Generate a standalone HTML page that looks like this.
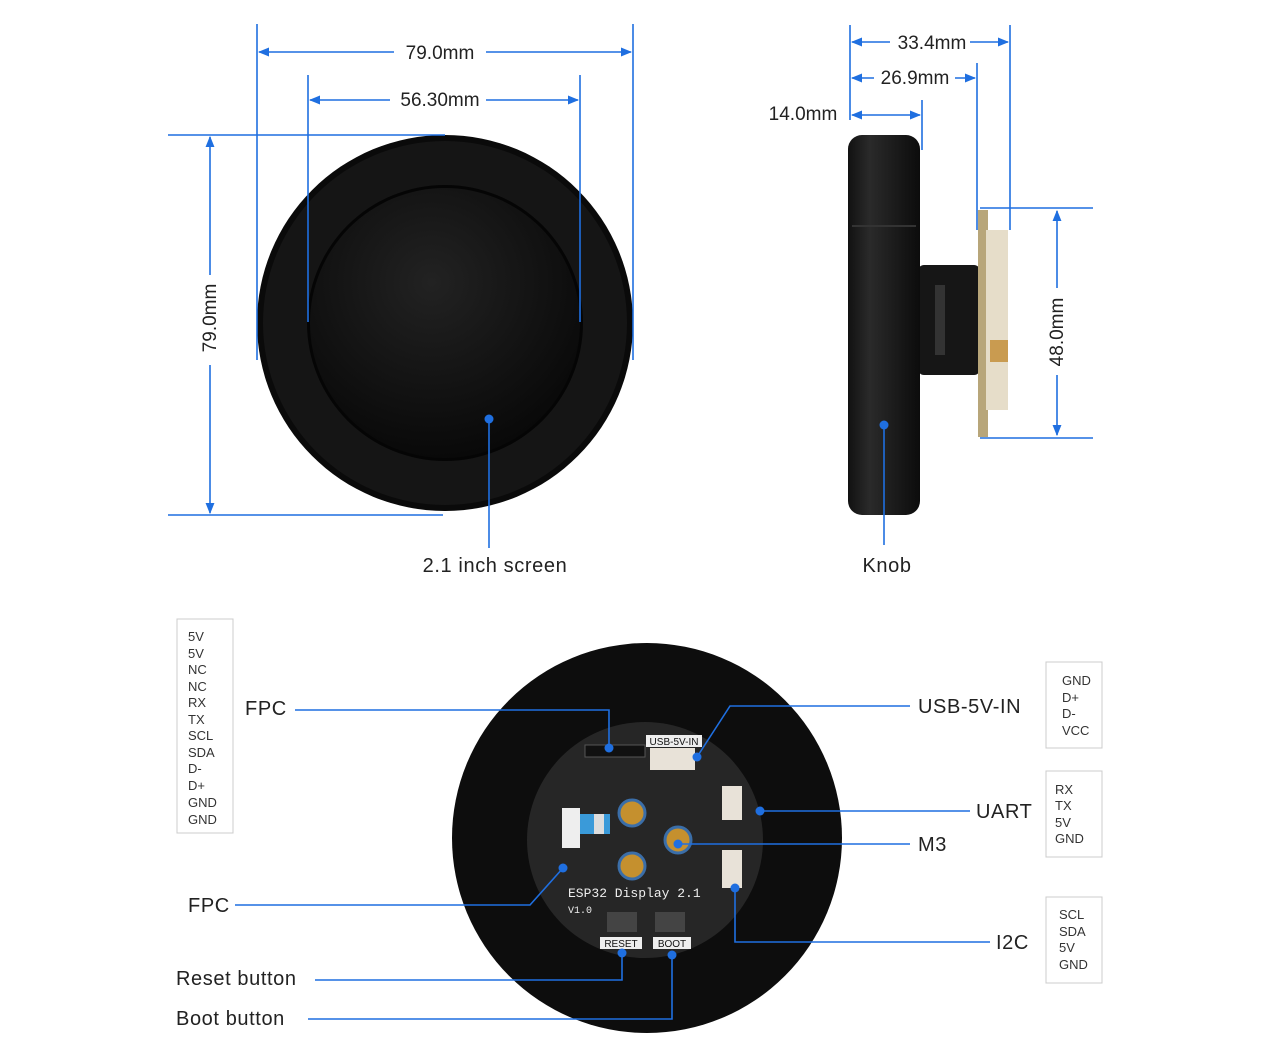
<!DOCTYPE html>
<html><head><meta charset="utf-8"><style>
html,body{margin:0;padding:0;background:#fff;width:1280px;height:1050px;overflow:hidden}
svg{display:block}
text{font-family:"Liberation Sans",sans-serif;fill:#222}
.b{stroke:#1f6fe0;stroke-width:1.6;fill:none}
.d{fill:#1f6fe0}
.pin{font-size:13px;fill:#333}
.lbl{font-size:20px;letter-spacing:0.6px}
.dim{font-size:19px}
</style></head><body>
<svg width="1280" height="1050" viewBox="0 0 1280 1050">
<defs>
<marker id="a" viewBox="0 0 10 10" refX="9" refY="5" markerWidth="7" markerHeight="7" orient="auto-start-reverse"><path d="M0,1L10,5L0,9z" fill="#1f6fe0"/></marker>
<radialGradient id="g1" cx="0.45" cy="0.35" r="0.7"><stop offset="0" stop-color="#222"/><stop offset="1" stop-color="#070707"/></radialGradient>
<linearGradient id="kn" x1="0" x2="1"><stop offset="0" stop-color="#111"/><stop offset="0.3" stop-color="#2a2a2a"/><stop offset="1" stop-color="#0c0c0c"/></linearGradient>
</defs>

<circle cx="445" cy="323" r="188" fill="#0a0a0a"/>
<circle cx="445" cy="323" r="182" fill="#151515"/>
<circle cx="445" cy="323" r="138" fill="#050505"/>
<circle cx="445" cy="323" r="135" fill="url(#g1)"/>
<line class="b" x1="257" y1="24" x2="257" y2="360"/>
<line class="b" x1="633" y1="24" x2="633" y2="360"/>
<line class="b" x1="308" y1="75" x2="308" y2="322"/>
<line class="b" x1="580" y1="75" x2="580" y2="322"/>
<line class="b" x1="168" y1="135" x2="445" y2="135"/>
<line class="b" x1="168" y1="515" x2="443" y2="515"/>
<line class="b" x1="259" y1="52" x2="394" y2="52" marker-start="url(#a)"/>
<line class="b" x1="486" y1="52" x2="631" y2="52" marker-end="url(#a)"/>
<text class="dim" x="440" y="59" text-anchor="middle">79.0mm</text>
<line class="b" x1="310" y1="100" x2="390" y2="100" marker-start="url(#a)"/>
<line class="b" x1="486" y1="100" x2="578" y2="100" marker-end="url(#a)"/>
<text class="dim" x="440" y="106" text-anchor="middle">56.30mm</text>
<line class="b" x1="210" y1="137" x2="210" y2="275" marker-start="url(#a)"/>
<line class="b" x1="210" y1="365" x2="210" y2="513" marker-end="url(#a)"/>
<text class="dim" transform="translate(216,318) rotate(-90)" text-anchor="middle">79.0mm</text>
<line class="b" x1="489" y1="419" x2="489" y2="548"/>
<circle class="d" cx="489" cy="419" r="4.5"/>
<text class="lbl" x="495" y="572" text-anchor="middle">2.1 inch screen</text>

<rect x="918" y="265" width="62" height="110" rx="6" fill="#161616"/>
<rect x="935" y="285" width="10" height="70" fill="#333"/>
<rect x="978" y="210" width="10" height="227" fill="#b8a67a"/>
<rect x="986" y="230" width="22" height="180" fill="#e6ddc9"/>
<rect x="990" y="340" width="18" height="22" fill="#c99b50"/>
<rect x="848" y="135" width="72" height="380" rx="14" fill="url(#kn)"/>
<rect x="852" y="225" width="64" height="2" fill="#333"/>
<line class="b" x1="850" y1="25" x2="850" y2="120"/>
<line class="b" x1="1010" y1="25" x2="1010" y2="230"/>
<line class="b" x1="977" y1="63" x2="977" y2="230"/>
<line class="b" x1="922" y1="100" x2="922" y2="150"/>
<line class="b" x1="852" y1="42" x2="890" y2="42" marker-start="url(#a)"/>
<line class="b" x1="970" y1="42" x2="1008" y2="42" marker-end="url(#a)"/>
<text class="dim" x="932" y="49" text-anchor="middle">33.4mm</text>
<line class="b" x1="852" y1="78" x2="874" y2="78" marker-start="url(#a)"/>
<line class="b" x1="955" y1="78" x2="975" y2="78" marker-end="url(#a)"/>
<text class="dim" x="915" y="84" text-anchor="middle">26.9mm</text>
<line class="b" x1="852" y1="115" x2="920" y2="115" marker-start="url(#a)" marker-end="url(#a)"/>
<text class="dim" x="803" y="120" text-anchor="middle">14.0mm</text>
<line class="b" x1="980" y1="208" x2="1093" y2="208"/>
<line class="b" x1="980" y1="438" x2="1093" y2="438"/>
<line class="b" x1="1057" y1="211" x2="1057" y2="288" marker-start="url(#a)"/>
<line class="b" x1="1057" y1="375" x2="1057" y2="435" marker-end="url(#a)"/>
<text class="dim" transform="translate(1063,332) rotate(-90)" text-anchor="middle">48.0mm</text>
<line class="b" x1="884" y1="425" x2="884" y2="545"/>
<circle class="d" cx="884" cy="425" r="4.5"/>
<text class="lbl" x="887" y="572" text-anchor="middle">Knob</text>

<circle cx="647" cy="838" r="195" fill="#0d0d0d"/>
<circle cx="645" cy="840" r="118" fill="#262626"/>
<rect x="585" y="745" width="60" height="12" fill="#111" stroke="#555"/>
<rect x="650" y="748" width="45" height="22" fill="#e8e2d8"/>
<rect x="722" y="786" width="20" height="34" fill="#e8e2d8"/>
<rect x="722" y="850" width="20" height="38" fill="#e8e2d8"/>
<rect x="562" y="808" width="18" height="40" fill="#eee"/>
<rect x="580" y="814" width="30" height="20" fill="#3a9ad9"/>
<rect x="594" y="814" width="10" height="20" fill="#ddd"/>
<circle cx="632" cy="813" r="13" fill="#c5902e" stroke="#3b6ea8" stroke-width="3"/>
<circle cx="678" cy="840" r="13" fill="#c5902e" stroke="#3b6ea8" stroke-width="3"/>
<circle cx="632" cy="866" r="13" fill="#c5902e" stroke="#3b6ea8" stroke-width="3"/>
<rect x="607" y="912" width="30" height="20" fill="#444"/>
<rect x="655" y="912" width="30" height="20" fill="#444"/>
<text x="568" y="897" style="font-family:'Liberation Mono',monospace;font-size:13px;fill:#eee">ESP32 Display 2.1</text>
<text x="568" y="913" style="font-family:'Liberation Mono',monospace;font-size:10px;fill:#eee">V1.0</text>
<rect x="600" y="937" width="42" height="12" fill="#eee"/><text x="621" y="947" text-anchor="middle" style="font-size:10px;fill:#111">RESET</text>
<rect x="653" y="937" width="38" height="12" fill="#eee"/><text x="672" y="947" text-anchor="middle" style="font-size:10px;fill:#111">BOOT</text>
<rect x="646" y="735" width="56" height="12" fill="#eee"/><text x="674" y="745" text-anchor="middle" style="font-size:10px;fill:#111">USB-5V-IN</text>

<path class="b" d="M295,710H609V748"/><circle class="d" cx="609" cy="748" r="4.5"/>
<path class="b" d="M910,706H730L697,757"/><circle class="d" cx="697" cy="757" r="4.5"/>
<path class="b" d="M970,811H760"/><circle class="d" cx="760" cy="811" r="4.5"/>
<path class="b" d="M910,844H678"/><circle class="d" cx="678" cy="844" r="4.5"/>
<path class="b" d="M235,905H530L563,868"/><circle class="d" cx="563" cy="868" r="4.5"/>
<path class="b" d="M990,942H735V888"/><circle class="d" cx="735" cy="888" r="4.5"/>
<path class="b" d="M315,980H622V953"/><circle class="d" cx="622" cy="953" r="4.5"/>
<path class="b" d="M308,1019H672V955"/><circle class="d" cx="672" cy="955" r="4.5"/>

<text class="lbl" x="245" y="715">FPC</text>
<text class="lbl" x="918" y="713">USB-5V-IN</text>
<text class="lbl" x="976" y="818">UART</text>
<text class="lbl" x="918" y="851">M3</text>
<text class="lbl" x="188" y="912">FPC</text>
<text class="lbl" x="996" y="949">I2C</text>
<text class="lbl" x="176" y="985">Reset button</text>
<text class="lbl" x="176" y="1025">Boot button</text>

<rect x="177" y="619" width="56" height="214" fill="none" stroke="#ccc"/>
<text class="pin" x="188" y="641">5V</text><text class="pin" x="188" y="658">5V</text>
<text class="pin" x="188" y="674">NC</text><text class="pin" x="188" y="691">NC</text>
<text class="pin" x="188" y="707">RX</text><text class="pin" x="188" y="724">TX</text>
<text class="pin" x="188" y="740">SCL</text><text class="pin" x="188" y="757">SDA</text>
<text class="pin" x="188" y="773">D-</text><text class="pin" x="188" y="790">D+</text>
<text class="pin" x="188" y="807">GND</text><text class="pin" x="188" y="824">GND</text>
<rect x="1046" y="662" width="56" height="86" fill="none" stroke="#ccc"/>
<text class="pin" x="1062" y="685">GND</text><text class="pin" x="1062" y="702">D+</text>
<text class="pin" x="1062" y="718">D-</text><text class="pin" x="1062" y="735">VCC</text>
<rect x="1046" y="771" width="56" height="86" fill="none" stroke="#ccc"/>
<text class="pin" x="1055" y="794">RX</text><text class="pin" x="1055" y="810">TX</text>
<text class="pin" x="1055" y="827">5V</text><text class="pin" x="1055" y="843">GND</text>
<rect x="1046" y="897" width="56" height="86" fill="none" stroke="#ccc"/>
<text class="pin" x="1059" y="919">SCL</text><text class="pin" x="1059" y="936">SDA</text>
<text class="pin" x="1059" y="952">5V</text><text class="pin" x="1059" y="969">GND</text>
</svg>
</body></html>
